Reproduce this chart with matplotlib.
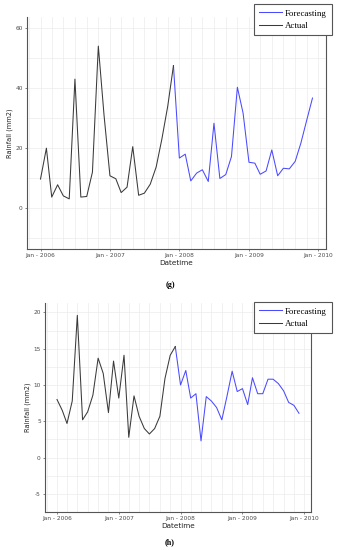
"""
Rainfall actual vs forecast, two stacked panels (g) and (h).
"""

import matplotlib
matplotlib.use("Agg")
import matplotlib.pyplot as plt
import matplotlib.dates as mdates
import numpy as np
import pandas as pd

plt.rcParams["axes.unicode_minus"] = False

months = pd.date_range("2006-01-01", "2009-12-01", freq="MS")
split = 23  # Dec 2007 is the last actual month, forecast starts there

# panel (g), monthly rainfall (mm2)
rain_g = [9.7, 20.0, 3.7, 7.8, 4.1, 3.1, 43.0, 3.7, 3.9, 12.0, 54.0, 31.0,
          10.8, 9.8, 5.2, 7.0, 20.5, 4.3, 5.0, 8.0, 13.7, 23.0, 34.0, 47.5,
          16.7, 18.0, 9.1, 11.7, 12.8, 8.9, 28.3, 9.9, 11.2, 17.2, 40.3, 31.7,
          15.3, 15.0, 11.3, 12.4, 19.4, 10.8, 13.3, 13.1, 15.6, 21.7, 29.4, 36.7]

# panel (h), monthly rainfall (mm2)
rain_h = [8.0, 6.5, 4.7, 7.8, 19.6, 5.2, 6.3, 8.6, 13.7, 11.6, 6.2, 13.3,
          8.2, 14.1, 2.8, 8.5, 5.7, 4.0, 3.25, 4.0, 5.7, 10.9, 14.1, 15.3,
          10.0, 12.0, 8.2, 8.8, 2.3, 8.4, 7.8, 6.9, 5.2, 8.4, 11.9, 9.1,
          9.5, 7.3, 11.0, 8.8, 8.8, 10.8, 10.8, 10.2, 9.2, 7.6, 7.2, 6.1]

yticks_g = [0, 20, 40, 60]
yticks_h = [-5, 0, 5, 10, 15, 20]

ACTUAL = "#3a3a3a"
FORECAST = "#4a4aff"
GRID = "#ebebeb"


def draw_panel(ax, values, yticks, ylim, ygrid_step):
    values = np.asarray(values)
    ax.plot(months[split:], values[split:], color=FORECAST, lw=0.75, label="Forecasting")
    ax.plot(months[:split + 1], values[:split + 1], color=ACTUAL, lw=0.75, label="Actual")

    pad = pd.Timedelta(days=71)
    ax.set_xlim(months[0] - pad, months[-1] + pad)
    ax.set_ylim(*ylim)

    ax.xaxis.set_major_locator(mdates.YearLocator())
    ax.xaxis.set_major_formatter(mdates.DateFormatter("%b - %Y"))
    ax.xaxis.set_minor_locator(mdates.MonthLocator(bymonth=[3, 5, 7, 9, 11]))
    ax.set_yticks(yticks)
    ax.set_yticks(np.arange(yticks[0] - ygrid_step, ylim[1], ygrid_step), minor=True)

    ax.grid(True, which="both", color=GRID, lw=0.5)
    ax.set_axisbelow(True)
    ax.tick_params(which="major", labelsize=4.2, labelcolor="#4d4d4d", color="#555555",
                   length=1.5, width=0.5, pad=1.5)
    ax.tick_params(which="minor", length=0)

    for side in ("left", "bottom", "right"):
        ax.spines[side].set_color("#555555")
        ax.spines[side].set_linewidth(0.8)
    ax.spines["top"].set_visible(False)

    ax.set_ylabel("Rainfall (mm2)", fontsize=4.8, color="#222222", labelpad=2)
    ax.set_xlabel("Datetime", fontsize=5.2, color="#222222", labelpad=1)


fig = plt.figure(figsize=(3.4, 5.5), dpi=100)

ax_g = fig.add_axes([27 / 340, 1 - 249 / 550, 299 / 340, 232 / 550])
draw_panel(ax_g, rain_g, yticks_g, (-13.6, 63.7), 10)

ax_h = fig.add_axes([45 / 340, 1 - 512 / 550, 266 / 340, 209 / 550])
draw_panel(ax_h, rain_h, yticks_h, (-5.1, 21.3), 2.5)

for ax, top in ((ax_g, 4), (ax_h, 302)):
    leg = ax.legend(loc="upper right", bbox_to_anchor=(332 / 340, 1 - top / 550),
                    bbox_transform=fig.transFigure, borderaxespad=0,
                    prop={"family": "Liberation Serif", "size": 6.4},
                    frameon=True, fancybox=False, framealpha=1,
                    handlelength=2.6, handletextpad=0.3, labelspacing=0.45,
                    borderpad=0.6)
    leg.get_frame().set_edgecolor("#555555")
    leg.get_frame().set_linewidth(0.8)

fig.text(170 / 340, 1 - 285 / 550, "(g)", ha="center", va="center",
         family="Liberation Serif", fontsize=5.8, weight="bold")
fig.text(170 / 340, 1 - 542 / 550, "(h)", ha="center", va="center",
         family="Liberation Serif", fontsize=5.8, weight="bold")

fig.savefig("out.png", dpi=100)
